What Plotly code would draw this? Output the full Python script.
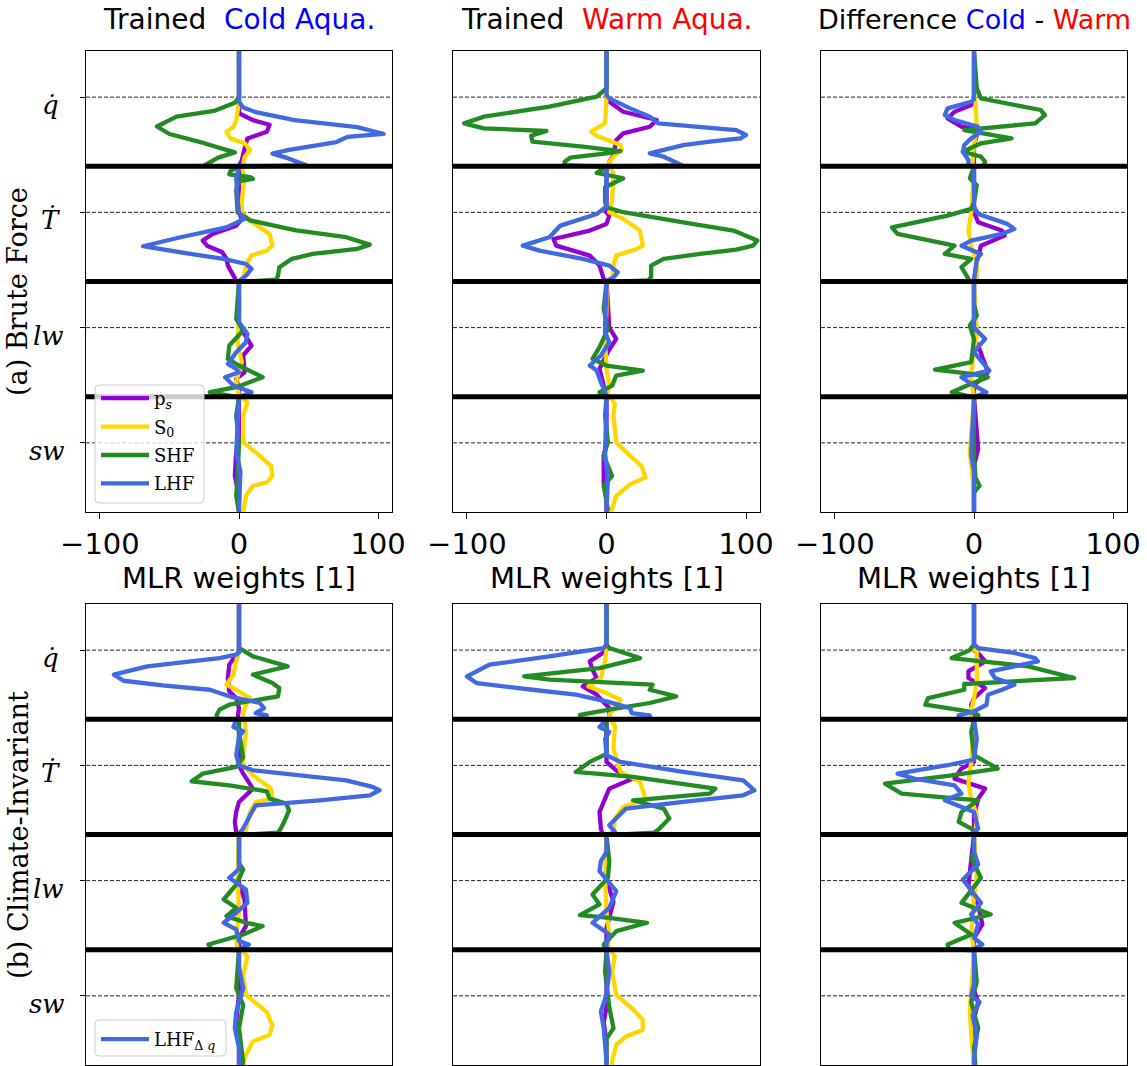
import plotly.graph_objects as go

# ---------------------------------------------------------------------------
# MLR weight profiles.  Each profile is a list of (level, weight) pairs.
# The vertical coordinate stacks four blocks of 0-1000 (q-dot, T-dot, lw, sw).
# ---------------------------------------------------------------------------

# Brute force, trained on the cold aquaplanet
bf_cold_ps = [(0, 0), (540, 0), (600, 10), (640, 22), (700, 20), (760, 6), (850, 4), (950, 2), (995, 0),
              (1005, 0), (1400, 0), (1460, 2), (1515, -2), (1587, -19), (1645, -26), (1689, -23), (1747, -12),
              (1804, -9), (1862, -8), (1949, -4), (1995, -2),
              (2005, 0), (2380, 0), (2440, 3), (2556, 9), (2640, 3), (2787, 4), (2845, -2), (2940, 0), (2995, 0),
              (3005, 0), (3400, 0), (3483, -2), (3686, -3), (3800, -1), (4000, 0)]
bf_cold_s0 = [(0, 0), (450, 0), (600, -2), (660, -4), (700, -9), (760, -6), (800, 4), (860, 8), (920, 4), (995, 3),
              (1005, 2), (1100, 4), (1300, 2), (1400, 2), (1472, 8), (1587, 22), (1689, 24), (1732, 20), (1775, 9),
              (1833, 6), (1920, 4), (1995, 3),
              (2005, 0), (2300, 0), (2527, -1), (2700, 2), (2870, -2), (2995, 0),
              (3005, 2), (3049, 6), (3165, 3), (3396, 3), (3483, 12), (3599, 23), (3686, 24), (3744, 20),
              (3773, 10), (3860, 5), (4000, 3)]
bf_cold_shf = [(0, 0), (400, 0), (450, -3), (520, -18), (570, -45), (655, -59), (720, -50), (800, -25), (880, -3),
               (925, -15), (995, -25),
               (1005, 0), (1040, -6), (1070, -7), (1095, 8), (1110, 10), (1130, 0), (1200, -2), (1400, -1),
               (1470, 8), (1557, 41), (1616, 77), (1680, 94), (1717, 85), (1761, 53), (1804, 38), (1876, 29),
               (1950, 28), (1985, 27),
               (2005, 0), (2324, -2), (2425, 3), (2556, -7), (2671, -8), (2729, 0), (2830, 17), (2917, -2),
               (2960, -21),
               (3005, 0), (3165, -2), (3400, 0), (3686, -1), (3860, -2), (4000, 0)]
bf_cold_lhf = [(0, 0), (440, 0), (490, 3), (530, 12), (600, 40), (660, 85), (720, 104), (745, 78), (790, 70),
               (860, 35), (890, 24), (930, 35), (990, 48),
               (1005, 0), (1100, -2), (1300, -1), (1400, 0), (1457, 4), (1530, -9), (1616, -42), (1694, -69),
               (1761, -35), (1804, -11), (1848, 5), (1891, 9), (1949, 5), (1995, 0),
               (2005, 0), (2353, 0), (2454, 6), (2527, 5), (2613, -2), (2715, -8), (2758, -2), (2787, 0),
               (2830, -10), (2903, -4), (2961, 9),
               (3005, 0), (3480, -2), (3650, 1), (4000, 0)]

# Brute force, trained on the warm aquaplanet
bf_warm_ps = [(0, 0), (400, 0), (440, 2), (527, 12), (599, 36), (657, 31), (715, 12), (773, 7), (903, 5), (961, 2),
              (995, 1),
              (1005, 0), (1400, 0), (1428, 2), (1500, 0), (1558, -12), (1631, -38), (1689, -36), (1775, -12),
              (1862, -5), (1977, -2),
              (2005, 0), (2400, 2), (2498, 7), (2610, 1), (2758, -5), (2903, -2), (2995, 0),
              (3005, 0), (3400, 0), (3512, -2), (3744, -2), (3860, 0), (4000, 0)]
bf_warm_s0 = [(0, 0), (396, 0), (628, -1), (700, -11), (735, -7), (816, 10), (859, 11), (903, 6), (961, 2), (995, 1),
              (1005, 2), (1058, 5), (1300, 4), (1399, 2), (1457, 12), (1558, 24), (1689, 26), (1717, 22),
              (1775, 7), (1862, 5), (1977, 4), (1995, 3),
              (2005, 0), (2237, 0), (2527, -1), (2758, 0), (2903, 2), (2995, 0),
              (3005, 3), (3064, 6), (3165, 5), (3396, 7), (3512, 17), (3599, 25), (3700, 28), (3758, 17),
              (3860, 7), (3975, 4), (4000, 3)]
bf_warm_shf = [(0, 0), (324, 0), (396, -7), (483, -41), (570, -88), (628, -102), (671, -88), (694, -43),
               (735, -54), (787, -53), (830, -17), (868, 10), (888, 0), (926, -26), (961, -30), (990, -30),
               (1005, 0), (1058, -7), (1104, 12), (1182, -1), (1312, -1), (1356, 0), (1399, 12), (1486, 55),
               (1558, 91), (1645, 108), (1689, 105), (1723, 93), (1761, 67), (1804, 41), (1862, 32), (1960, 32),
               (1990, 30),
               (2005, 0), (2237, -2), (2411, 1), (2570, -5), (2671, -10), (2729, 0), (2773, 26), (2816, 7),
               (2903, 4), (2961, -5), (2995, -2),
               (3005, 0), (3165, -1), (3396, 1), (3512, -2), (3686, 4), (3773, -2), (3975, 1), (4000, 0)]
bf_warm_lhf = [(0, 0), (382, 0), (411, 2), (498, 17), (570, 31), (628, 37), (686, 93), (729, 100), (758, 96),
               (787, 74), (816, 55), (888, 31), (917, 41), (990, 54),
               (1005, 0), (1350, 0), (1414, -7), (1515, -33), (1616, -41), (1689, -60), (1732, -48), (1804, -17),
               (1862, 2), (1920, 8), (1964, 5), (1995, 0),
               (2005, 0), (2380, -1), (2440, -1), (2527, 2), (2642, -4), (2729, -12), (2773, -7), (2874, -4),
               (2961, -1), (2995, 0),
               (3005, 0), (3500, -1), (3700, 1), (4000, 0)]

# Brute force, cold minus warm
bf_diff_ps = [(0, 0), (420, 0), (469, -2), (527, -14), (584, -19), (657, -9), (686, 3), (816, 0), (995, 0),
              (1005, 0), (1400, 0), (1486, 3), (1558, 20), (1602, 22), (1689, 5), (1833, 2), (1995, 0),
              (2005, 0), (2500, 0), (2556, 3), (2787, 10), (2903, 0), (2995, 0),
              (3005, 0), (3454, 3), (3600, 0), (4000, 0)]
bf_diff_s0 = [(0, 0), (396, 0), (434, 1), (671, 2), (816, 0), (961, -1), (995, -1),
              (1005, 0), (1399, -2), (1558, -4), (1689, -2), (1833, 2), (1995, 2),
              (2005, 0), (2469, 2), (2671, -1), (2874, -2), (2995, 0),
              (3005, 0), (3483, -3), (3700, -1), (4000, 0)]
bf_diff_shf = [(0, 0), (324, 2), (411, 5), (512, 48), (556, 51), (628, 44), (686, -7), (758, 27), (801, 5),
               (874, -8), (917, 5), (961, 8), (995, 7),
               (1005, 0), (1104, -3), (1165, 2), (1312, 0), (1370, -2), (1428, -19), (1530, -59), (1587, -55),
               (1689, -14), (1761, -21), (1804, -2), (1876, -9), (1977, -4), (1995, -3),
               (2005, 0), (2200, 0), (2295, 2), (2382, -3), (2498, 0), (2700, -2), (2764, -28), (2801, -2),
               (2830, 10), (2888, -2), (2961, -16),
               (3005, 0), (3500, 0), (3700, 1), (3773, 4), (3830, 0), (4000, 0)]
bf_diff_lhf = [(0, 0), (420, 0), (440, -2), (498, -19), (556, -21), (599, -14), (657, 3), (700, 5), (758, -2),
               (816, -7), (874, -8), (946, -4), (995, -4),
               (1005, 0), (1350, 0), (1414, 3), (1500, 24), (1544, 29), (1587, 20), (1645, -2), (1689, -9),
               (1761, 5), (1804, 2), (1995, 0),
               (2005, 0), (2400, 0), (2498, 8), (2613, 0), (2773, 11), (2830, -9), (2888, -2), (2961, 9),
               (3005, 0), (3500, -2), (3650, 0), (4000, 0)]

# Climate-invariant, trained on the cold aquaplanet
ci_cold_ps = [(0, 0), (420, 0), (440, -2), (527, -7), (642, -8), (758, -7), (816, -2), (903, 0), (995, -1),
              (1005, 0), (1399, 0), (1472, 3), (1602, 10), (1718, 0), (1804, -2), (1891, -3), (1977, -2),
              (1995, -2),
              (2005, 0), (2434, 0), (2564, 4), (2795, 5), (2897, 0), (2995, 0),
              (3005, 0), (3391, 0), (3628, -2), (3800, 0), (4000, 0)]
ci_cold_s0 = [(0, 0), (411, 0), (498, -2), (613, -4), (700, -9), (744, -2), (816, 8), (874, 5), (946, 3), (995, 3),
              (1005, 4), (1110, 5), (1312, 3), (1399, 3), (1486, 10), (1602, 23), (1689, 24), (1718, 12),
              (1804, 8), (1949, 5), (1995, 5),
              (2005, 0), (2376, -1), (2665, 0), (2897, -2), (2995, -1),
              (3005, 2), (3058, 6), (3223, 3), (3391, 5), (3541, 20), (3657, 24), (3738, 22), (3796, 10),
              (3911, 5), (3983, 3), (4000, 3)]
ci_cold_shf = [(0, 0), (380, 0), (396, 2), (454, 10), (541, 35), (613, 10), (686, 24), (729, 29), (801, 28),
               (874, -7), (917, -14), (961, -16), (995, -16),
               (1005, 0), (1110, 0), (1330, 3), (1414, -2), (1472, -26), (1538, -34), (1573, -7), (1625, 20),
               (1689, 22), (1732, 34), (1790, 36), (1876, 33), (1949, 30), (1985, 28),
               (2005, 0), (2250, 0), (2304, 3), (2434, -2), (2564, -11), (2636, -2), (2708, -9), (2766, 5),
               (2795, 17), (2868, 3), (2954, -22), (2995, -20),
               (3005, 0), (3333, -2), (3480, 3), (3680, 0), (3980, 3), (4000, 2)]
ci_cold_lhf = [(0, 0), (420, 0), (440, -2), (469, -14), (541, -66), (613, -90), (666, -83), (706, -55),
               (744, -21), (801, -7), (859, 15), (903, 18), (946, 12), (966, 20), (990, 20),
               (1005, -2), (1067, -4), (1104, 3), (1150, 0), (1312, -2), (1399, 0), (1443, 10), (1530, 77),
               (1587, 96), (1616, 101), (1660, 94), (1703, 58), (1747, 12), (1833, 8), (1949, 3), (1995, 0),
               (2005, 0), (2300, 0), (2376, -7), (2477, 5), (2593, 6), (2679, -2), (2766, -11), (2824, -2),
               (2925, 0), (2954, 7), (2995, 0),
               (3005, 0), (3150, 0), (3333, 3), (3541, -2), (3680, -3), (3850, 0), (4000, 0)]

# Climate-invariant, trained on the warm aquaplanet
ci_warm_ps = [(0, 0), (400, 0), (411, -1), (498, -12), (570, -10), (642, -7), (715, -17), (787, -7), (903, 2),
              (995, 2),
              (1005, 0), (1370, 0), (1443, 7), (1515, 19), (1602, 2), (1689, -1), (1804, -5), (1949, -4),
              (1995, -3),
              (2005, 0), (2400, 0), (2469, 2), (2584, 5), (2810, 0), (2995, 0),
              (3005, 0), (3500, 0), (3628, -2), (3800, 0), (4000, 0)]
ci_warm_s0 = [(0, 0), (382, 0), (498, -1), (642, -4), (715, -13), (773, 0), (830, 10), (917, 5), (961, 2), (995, 2),
              (1005, 3), (1058, 6), (1254, 5), (1457, 10), (1544, 24), (1689, 28), (1761, 12), (1862, 6),
              (1977, 5), (1995, 5),
              (2005, 0), (2382, -1), (2665, 0), (2868, 2), (2995, 1),
              (3005, 3), (3058, 6), (3188, 4), (3391, 7), (3506, 18), (3608, 26), (3694, 26), (3752, 14),
              (3825, 7), (3969, 4), (4000, 4)]
ci_warm_shf = [(0, 0), (350, 0), (382, 2), (469, 24), (556, -5), (628, -59), (657, -41), (700, 33), (744, 31),
               (801, 50), (859, 31), (917, 2), (961, -19), (995, -19),
               (1005, 0), (1300, 0), (1370, -12), (1457, -22), (1500, 19), (1602, 78), (1645, 74), (1703, 19),
               (1775, 41), (1862, 45), (1949, 38), (1985, 34),
               (2005, 0), (2231, 2), (2376, 1), (2521, -10), (2607, -5), (2700, -19), (2723, 2), (2766, 29),
               (2839, 7), (2954, -2), (2995, -1),
               (3005, 0), (3188, -1), (3500, 2), (3680, 5), (3773, 0), (4000, 0)]
ci_warm_lhf = [(0, 0), (350, 0), (382, -2), (454, -41), (527, -84), (628, -100), (686, -93), (744, -53),
               (787, -22), (845, 0), (903, 17), (946, 18), (966, 31), (990, 31),
               (1005, 0), (1067, -5), (1110, 2), (1170, -1), (1312, 0), (1370, 10), (1457, 55), (1530, 98),
               (1616, 106), (1660, 98), (1717, 55), (1775, 14), (1920, 2), (1977, 6), (1995, 3),
               (2005, 0), (2150, 0), (2231, -4), (2318, -5), (2492, 7), (2636, 2), (2766, -10), (2868, 2),
               (2954, 0), (2995, 0),
               (3005, 0), (3188, 2), (3391, 0), (3535, -4), (3680, -2), (3969, 0), (4000, 0)]

# Climate-invariant, cold minus warm
ci_diff_ps = [(0, 0), (400, 0), (440, 4), (498, 8), (584, -4), (642, -4), (729, 8), (816, 0), (874, -2), (995, 0),
              (1005, 0), (1370, 0), (1428, -9), (1515, -14), (1602, 8), (1689, 3), (1833, 0), (1995, 0),
              (2005, 0), (2440, -4), (2613, 3), (2780, 6), (2897, 0), (2995, 0),
              (3005, 0), (3350, 0), (3454, 3), (3600, 0), (4000, 0)]
ci_diff_s0 = [(0, 0), (396, 0), (411, 2), (671, 2), (816, 0), (932, -2), (995, -2),
              (1005, 0), (1370, -2), (1558, -4), (1689, -2), (1833, 2), (1995, 1),
              (2005, 0), (2376, 2), (2527, 0), (2868, -2), (2995, 0),
              (3005, 0), (3520, -3), (3738, -2), (4000, 0)]
ci_diff_shf = [(0, 0), (350, 0), (400, -3), (469, -16), (541, 39), (642, 72), (694, -7), (744, -7), (816, -33),
               (874, -35), (932, -4), (961, 3), (995, 3),
               (1005, 0), (1110, -2), (1312, 0), (1428, 17), (1486, -16), (1558, -64), (1645, -52), (1703, 3),
               (1804, -9), (1891, -11), (1949, -2), (1995, 3),
               (2005, 0), (2150, 0), (2202, -2), (2376, 5), (2593, -9), (2694, 12), (2766, -14), (2868, -2),
               (2954, -19), (2995, -18),
               (3005, 0), (3280, 2), (3454, -2), (3680, 3), (3850, 0), (4000, 1)]
ci_diff_lhf = [(0, 0), (350, 0), (382, 3), (425, 29), (469, 44), (498, 46), (541, 29), (584, 12), (642, 15),
               (700, 29), (744, 20), (787, 10), (874, 9), (932, 0), (966, -11), (995, -11),
               (1005, 0), (1170, 2), (1350, 0), (1399, -19), (1472, -55), (1515, -43), (1573, -14), (1645, -9),
               (1703, -21), (1804, 0), (1949, 3), (1995, -2),
               (2005, 0), (2150, 0), (2260, 3), (2390, -8), (2593, 5), (2694, -2), (2781, 3), (2897, 0),
               (2954, 6), (2995, 0),
               (3005, 0), (3300, 0), (3400, -2), (3454, 4), (3570, -1), (3740, 2), (3950, 0), (4000, 0)]

panels = [
    [bf_cold_ps, bf_cold_s0, bf_cold_shf, bf_cold_lhf],
    [bf_warm_ps, bf_warm_s0, bf_warm_shf, bf_warm_lhf],
    [bf_diff_ps, bf_diff_s0, bf_diff_shf, bf_diff_lhf],
    [ci_cold_ps, ci_cold_s0, ci_cold_shf, ci_cold_lhf],
    [ci_warm_ps, ci_warm_s0, ci_warm_shf, ci_warm_lhf],
    [ci_diff_ps, ci_diff_s0, ci_diff_shf, ci_diff_lhf],
]

series_names = ["p<sub><i>s</i></sub>", "S<sub>0</sub>", "SHF", "LHF"]
series_keys = ["ps", "s0", "shf", "lhf"]
ci_lhf_name = "LHF<sub>\u0394 <i>q</i></sub>"
series_colors = ["#9400D3", "#FFD700", "#228B22", "#4169E1"]

block_edges = [1000, 2000, 3000]
block_marks = [400, 1400, 2400, 3400]
block_labels = ["<i>q\u0307</i>", "<i>\u1E6A</i>", "<i>lw</i>", "<i>sw</i>"]

x_ticks = [-100, 0, 100]
x_ticktext = ["\u2212100", "0", "100"]

col_titles = [
    "Trained  <span style='color:#0000FF'>Cold Aqua.</span>",
    "Trained  <span style='color:#FF0000'>Warm Aqua.</span>",
    "Difference <span style='color:#0000FF'>Cold</span> - <span style='color:#FF0000'>Warm</span>",
]
row_titles = ["(a) Brute Force", "(b) Climate-Invariant"]

# ---------------------------------------------------------------------------
W, H = 1147, 1066
col_px = [(86, 392), (453, 760), (821, 1127)]
row_px = [(51, 512), (604, 1065)]

SANS = "DejaVu Sans"
SERIF = "DejaVu Serif"

fig = go.Figure()
layout = dict(
    width=W, height=H, margin=dict(l=0, r=0, t=0, b=0),
    paper_bgcolor="white", plot_bgcolor="white", showlegend=True,
    shapes=[], annotations=[],
)

for k, series in enumerate(panels):
    r, c = divmod(k, 3)
    sfx = "" if k == 0 else str(k + 1)
    for j, prof in enumerate(series):
        lev = [p[0] for p in prof]
        val = [p[1] for p in prof]
        if r == 0:
            name, legend, show = series_names[j], "legend", k == 0
            group = series_keys[j]
        else:
            name = ci_lhf_name if j == 3 else series_names[j]
            legend, show = "legend2", (k == 3 and j == 3)
            group = "ci_" + series_keys[j]
        fig.add_trace(go.Scatter(
            x=val, y=lev, mode="lines", name=name, legend=legend, showlegend=show,
            legendgroup=group,
            line=dict(color=series_colors[j], width=4.3, simplify=False),
            xaxis="x" + sfx, yaxis="y" + sfx, hoverinfo="skip",
        ))

    xa = dict(
        domain=[col_px[c][0] / W, col_px[c][1] / W], range=[-110, 110],
        tickmode="array", tickvals=x_ticks, ticktext=x_ticktext,
        ticks="outside", ticklen=6, tickwidth=1.2, tickcolor="black",
        showline=True, linecolor="black", linewidth=1.2, mirror=True,
        showgrid=False, zeroline=False, anchor="y" + sfx, automargin=False,
        showticklabels=(r == 0),
        tickfont=dict(family=SANS, size=29, color="black"), fixedrange=True,
    )
    ya = dict(
        domain=[1 - row_px[r][1] / H, 1 - row_px[r][0] / H], range=[4000, 0],
        showline=True, linecolor="black", linewidth=1.2, mirror=True,
        showgrid=False, zeroline=False, anchor="x" + sfx, automargin=False,
        fixedrange=True, showticklabels=False,
    )
    if c == 0:
        ya.update(tickmode="array", tickvals=block_marks,
                  ticks="outside", ticklen=5, tickwidth=1, tickcolor="black")
    else:
        ya.update(ticks="")
    layout["xaxis" + sfx] = xa
    layout["yaxis" + sfx] = ya

    xref = "x" + sfx + " domain"
    for lv in block_marks:
        layout["shapes"].append(dict(type="line", xref=xref, yref="y" + sfx, x0=0, x1=1, y0=lv, y1=lv,
                                     line=dict(color="#222222", width=1, dash="4px,2px"), layer="below"))
    for lv in block_edges:
        layout["shapes"].append(dict(type="line", xref=xref, yref="y" + sfx, x0=0, x1=1, y0=lv, y1=lv,
                                     line=dict(color="black", width=5), layer="above"))

    # block names beside the left-hand panels, placed on the dashed level
    if c == 0:
        label_x = [50, 50, 48, 47]
        for lv, txt, lx in zip(block_marks, block_labels, label_x):
            layout["annotations"].append(dict(
                text=txt, xref="paper", yref="y" + sfx, x=lx / W, y=lv + 70,
                xanchor="center", yanchor="middle", showarrow=False,
                font=dict(family=SERIF, size=26, color="black")))

# column titles and x-axis titles
title_sizes = [28, 28, 27]
for c in range(3):
    xc = (col_px[c][0] + col_px[c][1]) / 2 / W
    layout["annotations"].append(dict(
        text=col_titles[c], xref="paper", yref="paper", x=xc, y=1 - 20 / H,
        xanchor="center", yanchor="middle", showarrow=False,
        font=dict(family=SANS, size=title_sizes[c], color="black")))
    layout["annotations"].append(dict(
        text="MLR weights [1]", xref="paper", yref="paper", x=xc, y=1 - 578 / H,
        xanchor="center", yanchor="middle", showarrow=False,
        font=dict(family=SANS, size=29, color="black")))

# row titles, to the left of the block names
row_centres = [292, 835]
for r in range(2):
    layout["annotations"].append(dict(
        text=row_titles[r], xref="paper", yref="paper", x=18 / W, y=1 - row_centres[r] / H,
        xanchor="center", yanchor="middle", textangle=-90, showarrow=False,
        font=dict(family=SERIF, size=27, color="black")))


def rounded_box(x0, y0, x1, y1, rad=4):
    """Rounded rectangle path in paper coordinates from pixel corners."""
    def px(x):
        return x / W

    def py(y):
        return 1 - y / H
    return (f"M {px(x0 + rad)},{py(y0)} L {px(x1 - rad)},{py(y0)} "
            f"Q {px(x1)},{py(y0)} {px(x1)},{py(y0 + rad)} L {px(x1)},{py(y1 - rad)} "
            f"Q {px(x1)},{py(y1)} {px(x1 - rad)},{py(y1)} L {px(x0 + rad)},{py(y1)} "
            f"Q {px(x0)},{py(y1)} {px(x0)},{py(y1 - rad)} L {px(x0)},{py(y0 + rad)} "
            f"Q {px(x0)},{py(y0)} {px(x0 + rad)},{py(y0)} Z")


for box in [(95, 385, 204, 503), (95, 1020, 226, 1056)]:
    layout["shapes"].append(dict(type="path", xref="paper", yref="paper", path=rounded_box(*box),
                                 fillcolor="rgba(255,255,255,0.8)",
                                 line=dict(color="#cccccc", width=1), layer="above"))

legend_common = dict(bgcolor="rgba(0,0,0,0)", borderwidth=0, xanchor="left", yanchor="top",
                     font=dict(family=SERIF, size=18, color="black"), itemwidth=48,
                     tracegroupgap=2)
layout["legend"] = dict(x=96 / W, y=1 - 380 / H, **legend_common)
layout["legend2"] = dict(x=96 / W, y=1 - 1021 / H, **legend_common)

fig.update_layout(**layout)

fig.write_html(
    "out.html",
    post_script="var s=document.createElement('style');"
                "s.textContent='.js-line{stroke-linejoin:round}';"
                "document.head.appendChild(s);",
)
